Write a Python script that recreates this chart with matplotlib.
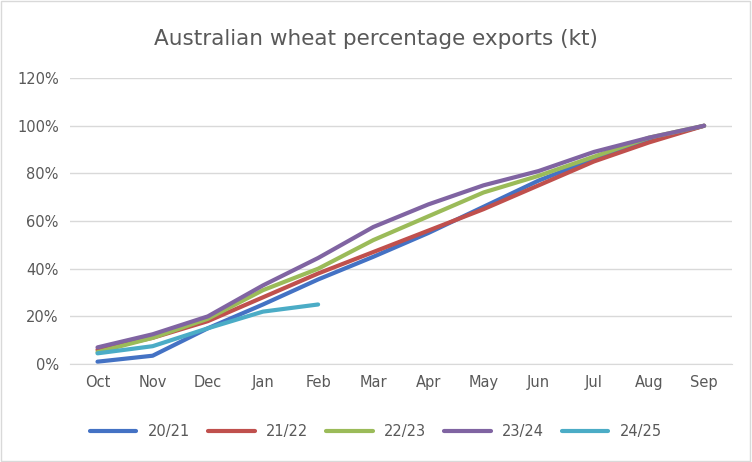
import matplotlib
matplotlib.use("Agg")
import matplotlib.pyplot as plt
from matplotlib.ticker import FuncFormatter

months = ["Oct","Nov","Dec","Jan","Feb","Mar","Apr","May","Jun","Jul","Aug","Sep"]
s2021 = [1, 3.5, 15, 25, 35.5, 45, 55, 66, 77, 86, 94, 100]
s2122 = [6, 11, 18, 28, 38, 47, 56, 65, 75, 85, 93, 100]
s2223 = [5, 11, 19, 31, 40, 52, 62, 72, 79, 87, 95, 100]
s2324 = [7, 12.5, 20, 33, 44.5, 57.5, 67, 75, 81, 89, 95, 100]
s2425 = [4.5, 7.5, 15, 22, 25]
labels = ["20/21","21/22","22/23","23/24","24/25"]
colors = ["#4472C4","#C0504D","#9BBB59","#8064A2","#4BACC6"]

fig = plt.figure(figsize=(7.52,4.62), dpi=100)
ax = fig.add_axes([0.093, 0.212, 0.88, 0.619])
x = list(range(len(months)))
for s, l, c in zip([s2021,s2122,s2223,s2324,s2425], labels, colors):
    ax.plot(x[:len(s)], s, color=c, lw=3, label=l, solid_capstyle='round')
ax.set_xlim(-0.5, 11.5)
ax.set_ylim(0, 120)
ax.set_yticks(range(0,121,20))
ax.yaxis.set_major_formatter(FuncFormatter(lambda v,p: f"{int(v)}%"))
ax.set_xticks(x)
ax.set_xticklabels(months)
ax.grid(axis='y', color='#D9D9D9', lw=1)
ax.set_axisbelow(True)
for sp in ['top','right','left']:
    ax.spines[sp].set_visible(False)
ax.spines['bottom'].set_color('#D9D9D9')
ax.tick_params(length=0, colors='#595959', labelsize=10.5, pad=8)
fig.text(0.5, 0.915, "Australian wheat percentage exports (kt)", ha='center', va='center', fontsize=15.5, color='#595959')
fig.legend(loc='center', bbox_to_anchor=(0.5, 0.065), ncol=5, frameon=False, fontsize=10.5,
           handlelength=3.2, columnspacing=1.2, labelcolor='#595959')
fig.patches.append(plt.Rectangle((0.001,0.002),0.997,0.996, transform=fig.transFigure, fill=False, edgecolor='#D9D9D9', lw=1))
fig.savefig("out.png", dpi=100)
